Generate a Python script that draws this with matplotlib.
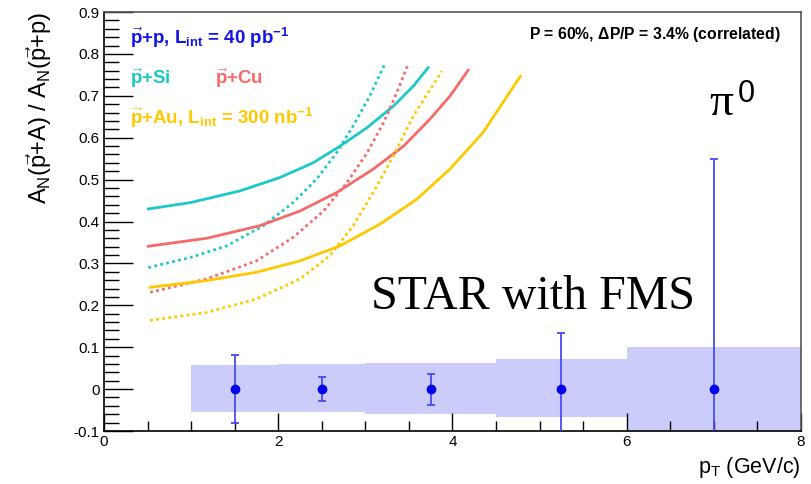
import matplotlib
matplotlib.use('Agg')
import matplotlib.pyplot as plt
import numpy as np

plt.rcParams['font.family'] = 'Liberation Sans'
plt.rcParams['mathtext.fontset'] = 'custom'
plt.rcParams['mathtext.rm'] = 'Liberation Sans'
plt.rcParams['mathtext.it'] = 'Liberation Sans:italic'
plt.rcParams['mathtext.bf'] = 'Liberation Sans:bold'

# data points (pi0 ratio, projected)
pt = [1.5, 2.5, 3.75, 5.25, 7.0]
val = [0.0, 0.0, 0.0, 0.0, 0.0]
stat = [0.082, 0.029, 0.037, 0.133, 0.549]

# systematic bands
bin_lo = [1.0, 2.0, 3.0, 4.5, 6.0]
bin_hi = [2.0, 3.0, 4.5, 6.0, 8.0]
sys_up = [0.058, 0.060, 0.062, 0.072, 0.101]
sys_dn = [0.054, 0.055, 0.060, 0.067, 0.110]

# theory curves (solid and dotted)
si_x = [0.51, 0.99, 1.56, 2.02, 2.40, 2.71, 3.02, 3.32, 3.55, 3.72]
si_y = [0.430, 0.445, 0.473, 0.505, 0.540, 0.580, 0.624, 0.675, 0.723, 0.767]
si_dx = [0.51, 0.99, 1.41, 1.83, 2.17, 2.44, 2.67, 2.86, 3.05, 3.23]
si_dy = [0.290, 0.314, 0.342, 0.390, 0.445, 0.501, 0.564, 0.628, 0.699, 0.779]
cu_x = [0.51, 1.18, 1.79, 2.25, 2.67, 3.09, 3.44, 3.74, 3.97, 4.18]
cu_y = [0.341, 0.360, 0.390, 0.425, 0.469, 0.525, 0.580, 0.644, 0.699, 0.761]
cu_dx = [0.53, 1.18, 1.75, 2.17, 2.52, 2.79, 3.02, 3.21, 3.36, 3.49]
cu_dy = [0.231, 0.263, 0.306, 0.362, 0.425, 0.493, 0.564, 0.636, 0.707, 0.775]
au_x = [0.53, 1.18, 1.75, 2.25, 2.71, 3.17, 3.59, 3.97, 4.35, 4.78]
au_y = [0.243, 0.259, 0.279, 0.306, 0.342, 0.394, 0.453, 0.525, 0.612, 0.747]
au_dx = [0.53, 1.18, 1.75, 2.25, 2.59, 2.86, 3.09, 3.32, 3.55, 3.88]
au_dy = [0.164, 0.183, 0.215, 0.263, 0.318, 0.390, 0.469, 0.556, 0.652, 0.759]

c_si = '#1ec8c8'
c_cu = '#f56a6a'
c_au = '#ffc800'
c_pp = '#1414e6'

fig = plt.figure(figsize=(8.11, 4.84), dpi=100)
ax = fig.add_axes([0.1282, 0.1095, 0.8594, 0.8657])

ax.bar(bin_lo, np.array(sys_up) + np.array(sys_dn), width=np.array(bin_hi) - np.array(bin_lo),
       bottom=-np.array(sys_dn), align='edge', color='#ccccfa', lw=0, zorder=1)

ax.errorbar(pt, val, yerr=stat, fmt='o', color='#0000ee', ecolor='#4a4af2',
            ms=6, elinewidth=1.3, capsize=3, capthick=1.3, zorder=3)

dot = (0, (1, 1.2))
ax.plot(si_x, si_y, color=c_si, lw=2, zorder=2)
ax.plot(si_dx, si_dy, color=c_si, lw=2, ls=dot, zorder=2)
ax.plot(cu_x, cu_y, color=c_cu, lw=2, zorder=2)
ax.plot(cu_dx, cu_dy, color=c_cu, lw=2, ls=dot, zorder=2)
ax.plot(au_x, au_y, color=c_au, lw=2, zorder=2)
ax.plot(au_dx, au_dy, color=c_au, lw=2, ls=dot, zorder=2)

ax.set_xlim(0, 8)
ax.set_ylim(-0.1, 0.9)
ax.set_xticks([0, 2, 4, 6, 8])
ax.set_xticks(np.arange(0, 8.01, 0.5), minor=True)
ax.set_yticks(np.round(np.arange(-0.1, 0.91, 0.1), 2))
ax.set_yticks(np.round(np.arange(-0.1, 0.91, 0.02), 2), minor=True)
ax.set_yticklabels(['%g' % v for v in np.round(np.arange(-0.1, 0.91, 0.1), 2)])
ax.tick_params(axis='y', which='major', direction='in', length=21, width=1, labelsize=11, pad=3)
ax.tick_params(axis='y', which='minor', direction='in', length=11, width=1)
ax.tick_params(axis='x', which='major', direction='in', length=13, width=1, labelsize=11, pad=3)
ax.tick_params(axis='x', which='minor', direction='in', length=7, width=1)
for s in ['top', 'right']:
    ax.spines[s].set_color('#555555')
for s in ax.spines.values():
    s.set_linewidth(1.2)

ax.set_xlabel(r'p$_{\rm T}$ (GeV/c)', fontsize=15.5, loc='right', labelpad=4)
ax.set_ylabel(r'A$_{\rm N}$($\vec{\rm p}$+A) / A$_{\rm N}$($\vec{\rm p}$+p)', fontsize=17,
              loc='top', labelpad=14)

ax.text(0.3, 0.823, r'$\vec{\mathbf{p}}$+p, L$_{\mathbf{int}}$ = 40 pb$^{\mathbf{-1}}$',
        color=c_pp, fontsize=13.5, fontweight='bold')
ax.text(0.3, 0.728, r'$\vec{\mathbf{p}}$+Si', color=c_si, fontsize=13.5, fontweight='bold')
ax.text(1.27, 0.728, r'$\vec{\mathbf{p}}$+Cu', color=c_cu, fontsize=13.5, fontweight='bold')
ax.text(0.3, 0.633, r'$\vec{\mathbf{p}}$+Au, L$_{\mathbf{int}}$ = 300 nb$^{\mathbf{-1}}$',
        color=c_au, fontsize=13.5, fontweight='bold')

ax.text(7.77, 0.835, r'P = 60%, $\mathbf{\Delta}$P/P = 3.4% (correlated)', fontsize=11.3,
        fontweight='bold', ha='right')
ax.text(6.95, 0.655, 'π', fontsize=34, family='Liberation Serif')
ax.text(7.27, 0.685, '0', fontsize=22, family='Liberation Sans')
ax.text(3.07, 0.192, 'STAR with FMS', fontsize=34.5, family='Liberation Serif')

fig.savefig('out.png', dpi=100)
